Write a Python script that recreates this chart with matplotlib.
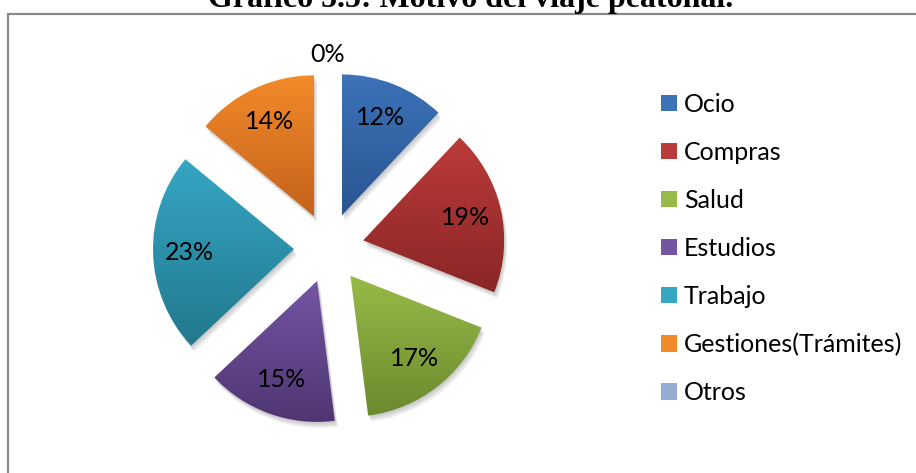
import numpy as np
import matplotlib
matplotlib.use("Agg")
import matplotlib.pyplot as plt
from matplotlib.patches import Patch, PathPatch, Rectangle
from matplotlib.colors import to_rgb
from matplotlib.transforms import Affine2D

plt.rcParams['font.family'] = ['Lato', 'DejaVu Sans']

# data
labels = ['Ocio', 'Compras', 'Salud', 'Estudios', 'Trabajo', 'Gestiones(Trámites)', 'Otros']
values = [12, 19, 17, 15, 23, 14, 0]
top_colors = ['#3c72b8', '#bb3b3a', '#98ba48', '#7355a3', '#35a6c4', '#f28a2a', '#95acd4']
bottom_colors = ['#2a5592', '#8a2626', '#6a8a2e', '#4f3672', '#22788d', '#c5621b', '#6a84ad']
title = 'Gráfico 5.5: Motivo del viaje peatonal.'

W, H = 916, 473
fig = plt.figure(figsize=(W / 100, H / 100), dpi=100)
ax = fig.add_axes([0, 0, 1, 1])

# chart area border (runs off the right and bottom edge)
ax.add_patch(Rectangle((8, -30), 1000, H - 14 + 30, fill=False,
                       edgecolor='#8a8a8a', lw=1.6, clip_on=False, zorder=1))

fig.text(471 / W, (H - 7) / H, title, ha='center', va='baseline',
         family='Liberation Serif', fontweight='bold', fontsize=23)

R = 141
cx, cy = 329, H - 248
# matplotlib offsets exploded wedges in data units
explode = [35] * len(values)

wedges, texts, autotexts = ax.pie(
    values, explode=explode, startangle=90, counterclock=False,
    center=(cx, cy), radius=R, autopct='%.0f%%', pctdistance=0.745,
    textprops=dict(fontsize=18, color='black'), frame=True)

for w, c0, c1 in zip(wedges, top_colors, bottom_colors):
    path = w.get_path()
    # soft drop shadow
    for dx, dy in [(1, -2), (2, -4), (3, -6)]:
        sh = PathPatch(path, transform=Affine2D().translate(dx, dy) + ax.transData,
                       facecolor='#000000', edgecolor='none', alpha=0.07, zorder=1.5)
        ax.add_patch(sh)
    w.set_facecolor('none')
    w.set_edgecolor('none')
    w.set_zorder(2)
    ext = path.get_extents()
    if ext.width <= 0 or ext.height <= 0:
        continue
    a = np.array(to_rgb(c1))
    b = np.array(to_rgb(c0))
    t = np.linspace(0, 1, 64)[:, None, None]
    grad = a + (b - a) * t
    im = ax.imshow(grad, extent=[ext.x0, ext.x1, ext.y0, ext.y1], origin='lower',
                   aspect='auto', interpolation='bilinear', zorder=2)
    im.set_clip_path(w)

for t, v in zip(autotexts, values):
    t.set_zorder(4)
    if v == 0:
        # Excel puts the empty slice's label outside the pie
        t.set_position((cx - 1, cy + 194))

ax.set_xlim(0, W)
ax.set_ylim(0, H)
ax.set_aspect('equal')
ax.axis('off')

handles = [Patch(facecolor=c, edgecolor='none') for c in top_colors]
ax.legend(handles, labels, loc='upper left', bbox_to_anchor=(661 / W, (H - 93) / H),
          frameon=False, fontsize=18, handlelength=0.62, handleheight=0.62,
          handletextpad=0.3, labelspacing=1.0, borderpad=0, borderaxespad=0)

fig.savefig('out.png', dpi=100)
